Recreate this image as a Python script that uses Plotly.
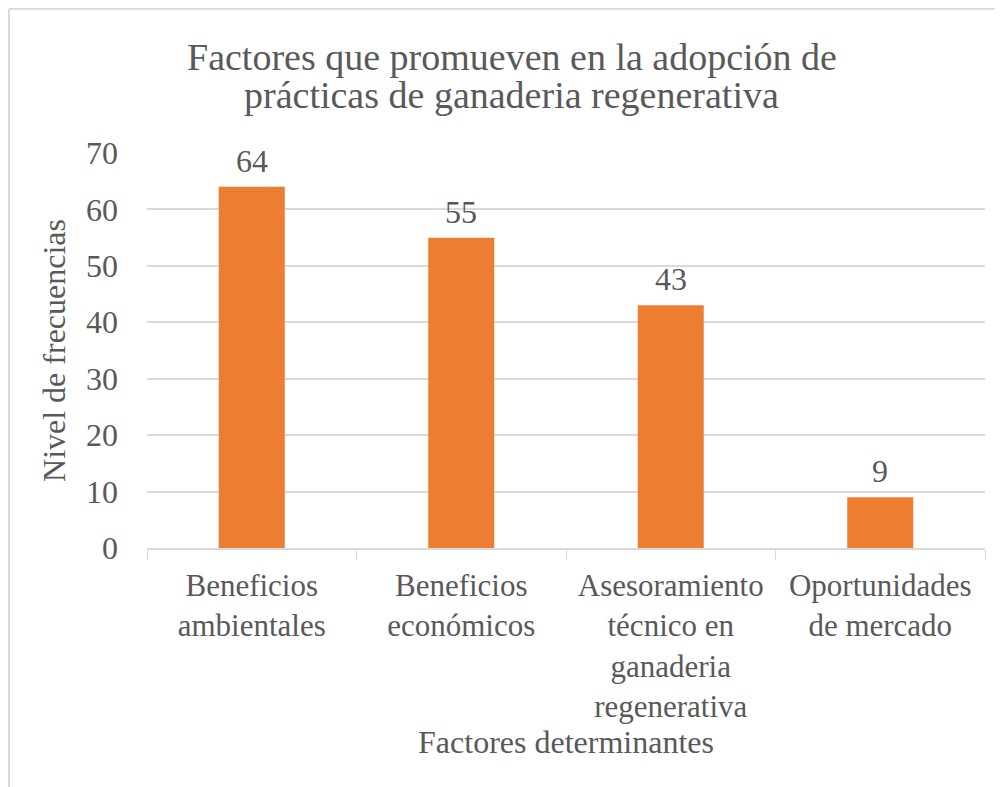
import plotly.graph_objects as go

categorias = ['Beneficios<br>ambientales', 'Beneficios<br>económicos',
              'Asesoramiento<br>técnico en<br>ganaderia<br>regenerativa',
              'Oportunidades<br>de mercado']
frecuencias = [64, 55, 43, 9]
ticks_y = [0, 10, 20, 30, 40, 50, 60, 70]
titulo = ['Factores que promueven en la adopción de',
          'prácticas de ganaderia regenerativa']

color_barra = '#ED7D31'
color_texto = '#595959'
color_linea = '#D9D9D9'
fuente = 'Liberation Serif, Times New Roman, serif'

fig = go.Figure()
fig.add_trace(go.Bar(
    x=categorias, y=frecuencias, marker=dict(color=color_barra, line=dict(width=0)),
    width=0.315, hoverinfo='x+y'
))

# etiquetas de datos encima de cada barra
for c, v in zip(categorias, frecuencias):
    fig.add_annotation(x=c, y=v, text=str(v), showarrow=False, yanchor='bottom', yshift=6,
                       font=dict(family=fuente, size=32, color=color_texto))

# titulo en dos lineas (interlineado ajustado como en Excel)
for texto, yy in zip(titulo, [1.243, 1.147]):
    fig.add_annotation(x=0.435, y=yy, xref='paper', yref='paper', text=texto, showarrow=False,
                       xanchor='center', yanchor='middle',
                       font=dict(family=fuente, size=38, color=color_texto))

fig.update_layout(
    width=1003, height=787,
    margin=dict(l=139, r=26, t=145, b=247),
    paper_bgcolor='white', plot_bgcolor='white',
    font=dict(family=fuente, size=32, color=color_texto),
    showlegend=False,
    xaxis=dict(
        title=dict(text='Factores determinantes', standoff=6,
                   font=dict(family=fuente, size=32, color=color_texto)),
        showline=True, linecolor=color_linea, linewidth=1.5,
        ticks='outside', tickson='boundaries', ticklen=10, tickcolor=color_linea,
        ticklabelstandoff=9,
        tickfont=dict(family=fuente, size=31, color=color_texto),
        showgrid=False,
    ),
    yaxis=dict(
        title=dict(text='Nivel de frecuencias', standoff=10,
                   font=dict(family=fuente, size=32, color=color_texto)),
        range=[0, 70], tickvals=ticks_y, showline=False, zeroline=False,
        gridcolor=color_linea, gridwidth=1.5, ticklabelstandoff=28,
        tickfont=dict(family=fuente, size=32, color=color_texto),
    ),
    shapes=[
        dict(type='line', xref='paper', yref='paper', x0=-0.1647, x1=1.1, y0=1.365, y1=1.365,
             line=dict(color=color_linea, width=2)),
        dict(type='line', xref='paper', yref='paper', x0=-0.1647, x1=-0.1647, y0=1.365, y1=-0.7,
             line=dict(color=color_linea, width=2)),
    ],
)

fig.write_html('out.html')
